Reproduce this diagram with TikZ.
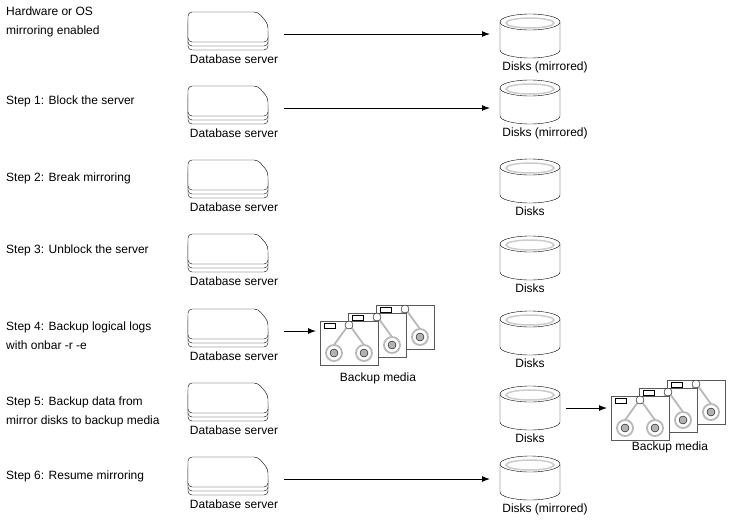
\documentclass[tikz,border=0pt]{standalone}
\usepackage{fontspec}
\setmainfont{Liberation Sans}
\usetikzlibrary{positioning,arrows.meta}
\tikzset{
  steptext/.style={anchor=north west,align=left,font=\fontsize{12}{19}\selectfont,inner sep=0pt},
  lbl/.style={anchor=north,font=\fontsize{12}{14}\selectfont,inner sep=0pt},
  flow/.style={-{Latex[length=8pt,width=6pt]},line width=1pt},
  server/.pic={
    \foreach \d in {8,4,0}
      \draw[fill=white,rounded corners=4pt] (-40,-15+\d) -- (30,-15+\d) -- (40,-3+\d) -- (40,15+\d) -- (-40,15+\d) -- cycle;
  },
  disk/.pic={
    \draw[fill=white] (-30,-14) -- (-30,14) arc[start angle=180,end angle=0,x radius=30,y radius=8] -- (30,-14);
    \draw[fill=white] (0,-14) ellipse[x radius=30,y radius=8];
    \draw[gray!40,line width=1.5pt] (0,-13) ellipse[x radius=24,y radius=5];
  },
  tape/.pic={
    \draw[fill=white,draw=gray!70!black] (-29,-22) rectangle (29,22);
    \draw[gray!55,line width=1.8pt] (-15,10) circle (8) (15,10) circle (8);
    \draw[gray!55,line width=1.8pt] (-15,2) -- (-2,-16) (15,2) -- (2,-16);
    \draw[fill=gray!60,draw=black] (-15,10) circle (4) (15,10) circle (4);
    \draw (-25,-20) rectangle (-14,-15);
    \draw[fill=white] (0,-18) circle (4);
  },
  media/.pic={
    \pic at (56,-16) {tape};
    \pic at (28,-8) {tape};
    \pic at (0,0) {tape};
  }
}
\begin{document}
\begin{tikzpicture}[x=1pt,y=-1pt]
  \useasboundingbox (0,0) rectangle (730,528);

  % Step texts
  \node[steptext] (t0) at (6,7) {Hardware or OS\\mirroring enabled};
  \node[steptext] (t1) at (6,96) {Step 1: Block the server};
  \node[steptext] (t2) at (6,173) {Step 2: Break mirroring};
  \node[steptext] (t3) at (6,245) {Step 3: Unblock the server};
  \node[steptext] (t4) at (6,322) {Step 4: Backup logical logs\\with onbar -r -e};
  \node[steptext] (t5) at (6,397) {Step 5: Backup data from\\mirror disks to backup media};
  \node[steptext] (t6) at (6,471) {Step 6: Resume mirroring};

  % Servers and disks
  \foreach \i/\ys/\yd in {0/27/36,1/101/102,2/175/181,3/249/258,4/324/333,5/398/408,6/472/478}{
    \pic at (228,\ys) {server};
    \coordinate (srv\i) at (284,\ys+7);
    \node[lbl] (srvl\i) at (234,\ys+28) {Database server};
    \pic at (530,\yd) {disk};
    \coordinate (dsk\i) at (490,\yd);
  }
  \node[lbl] (dskl0) at (545,62) {Disks (mirrored)};
  \node[lbl] (dskl1) at (545,128) {Disks (mirrored)};
  \node[lbl] (dskl2) at (530,207) {Disks};
  \node[lbl] (dskl3) at (530,284) {Disks};
  \node[lbl] (dskl4) at (530,359) {Disks};
  \node[lbl] (dskl5) at (530,434) {Disks};
  \node[lbl] (dskl6) at (545,504) {Disks (mirrored)};

  % Backup media
  \pic at (349,343) {media};
  \coordinate (med4) at (316,337);
  \node[lbl] (medl4) at (378,373) {Backup media};
  \pic at (640,418) {media};
  \coordinate (med5) at (607,408);
  \node[lbl] (medl5) at (670,442) {Backup media};
  \coordinate (dsk5r) at (566,408);

  % Connectors
  \draw[flow] (srv0) -- (dsk0|-srv0);
  \draw[flow] (srv1) -- (dsk1|-srv1);
  \draw[flow] (srv6) -- (dsk6|-srv6);
  \draw[flow] (srv4) -- (med4|-srv4);
  \draw[flow] (dsk5r) -- (med5);
\end{tikzpicture}
\end{document}
